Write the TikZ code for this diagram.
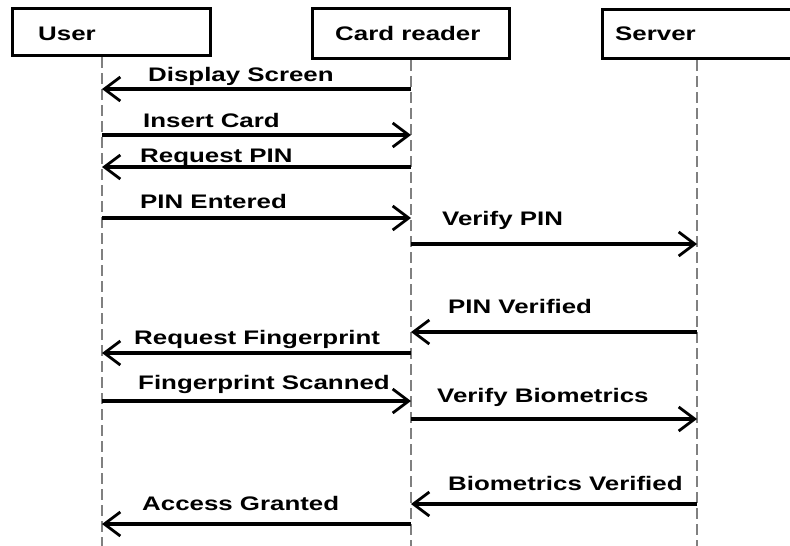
\documentclass[tikz,border=0pt]{standalone}
\usepackage{fontspec}
\usepackage{graphicx}
\setmainfont{Liberation Sans}
\usetikzlibrary{arrows.meta}
\newcommand\wlbl[1]{\scalebox{1.32}[1]{#1}}
\begin{document}
\begin{tikzpicture}[x=1pt,y=-1pt,
  actorbox/.style={draw=black,line width=3pt},
  lifeline/.style={draw=black!50,line width=1.6pt,dash pattern=on 11pt off 5pt},
  msg/.style={draw=black,line width=3.2pt,-{Straight Barb[length=16pt,width=24pt,line width=2.8pt]}},
  lbl/.style={anchor=base west,inner sep=0pt,font=\fontsize{19.6}{22}\selectfont\bfseries}]
\useasboundingbox[fill=white] (0,0) rectangle (790,546);
% actor boxes
\draw[actorbox] (12,8) rectangle (210,55);
\draw[actorbox] (312,8) rectangle (509,58);
\draw[actorbox] (602,9) rectangle (794,58);
\node[lbl] (tu) at (38,40) {\wlbl{User}};
\node[lbl] (tc) at (335,40) {\wlbl{Card reader}};
\node[lbl] (ts) at (615,40) {\wlbl{Server}};
% lifelines
\coordinate (utop) at (102,57);
\coordinate (ubot) at (102,546);
\coordinate (ctop) at (411,60);
\coordinate (cbot) at (411,546);
\coordinate (stop) at (697,60);
\coordinate (sbot) at (697,546);
\draw[lifeline] (utop) -- (ubot);
\draw[lifeline] (ctop) -- (cbot);
\draw[lifeline] (stop) -- (sbot);
% message end points
\foreach \n/\y in {1/89,2/135,3/167,4/218,5/244,6/332,7/353,8/401,9/419,10/504,11/524}{
  \coordinate (u\n) at (102,\y);
  \coordinate (c\n) at (411,\y);
  \coordinate (s\n) at (697,\y);
}
\draw[msg] (c1) -- (u1);
\draw[msg] (u2) -- (c2);
\draw[msg] (c3) -- (u3);
\draw[msg] (u4) -- (c4);
\draw[msg] (c5) -- (s5);
\draw[msg] (s6) -- (c6);
\draw[msg] (c7) -- (u7);
\draw[msg] (u8) -- (c8);
\draw[msg] (c9) -- (s9);
\draw[msg] (s10) -- (c10);
\draw[msg] (c11) -- (u11);
% labels
\node[lbl] (l1) at (148,81) {\wlbl{Display Screen}};
\node[lbl] (l2) at (143,127) {\wlbl{Insert Card}};
\node[lbl] (l3) at (140,162) {\wlbl{Request PIN}};
\node[lbl] (l4) at (140,208) {\wlbl{PIN Entered}};
\node[lbl] (l5) at (442,225) {\wlbl{Verify PIN}};
\node[lbl] (l6) at (448,313) {\wlbl{PIN Verified}};
\node[lbl] (l7) at (134,344) {\wlbl{Request Fingerprint}};
\node[lbl] (l8) at (138,389) {\wlbl{Fingerprint Scanned}};
\node[lbl] (l9) at (437,402) {\wlbl{Verify Biometrics}};
\node[lbl] (l10) at (448,490) {\wlbl{Biometrics Verified}};
\node[lbl] (l11) at (142,510) {\wlbl{Access Granted}};
\end{tikzpicture}
\end{document}
